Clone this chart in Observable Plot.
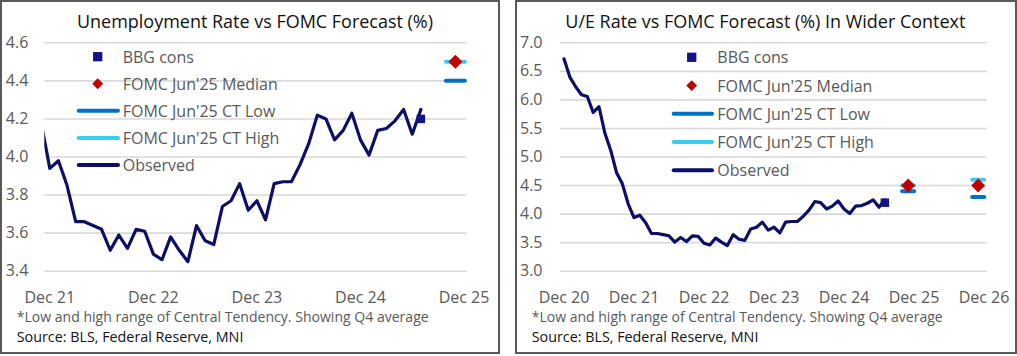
<!DOCTYPE html>
<html><head><meta charset="utf-8">
<script src="https://cdn.jsdelivr.net/npm/d3@7"></script>
<script src="https://cdn.jsdelivr.net/npm/@observablehq/plot@0.6"></script>
<style>
html,body{margin:0;padding:0;background:#fff;}
body{width:1017px;height:356px;position:relative;overflow:hidden;font-family:"Open Sans",sans-serif;}
.panel{position:absolute;top:0;height:354px;box-sizing:border-box;border:2px solid #595959;background:#fff;}
.panel svg{position:absolute;left:0;top:0;}
#overlay{position:absolute;left:0;top:0;pointer-events:none;}
</style></head><body>
<div id="p1" class="panel" style="left:0;width:500px"></div>
<div id="p2" class="panel" style="left:515px;width:502px"></div>
<script>
// ---- data ----
// Observed unemployment rate (%), monthly from Dec 2020 (index 0) to Jul 2025
const obsStartLabel = "Dec 2020";
const observed = [
  6.72,
  6.40, 6.23, 6.09, 6.06, 5.78, 5.88, 5.42, 5.12, 4.73, 4.53, 4.18, 3.94,
  3.98, 3.85, 3.66, 3.66, 3.64, 3.62, 3.51, 3.59, 3.52, 3.62, 3.61, 3.49,
  3.46, 3.58, 3.51, 3.45, 3.64, 3.56, 3.54, 3.74, 3.77, 3.86, 3.72, 3.77,
  3.67, 3.86, 3.87, 3.87, 3.96, 4.07, 4.22, 4.20, 4.09, 4.14, 4.23, 4.09,
  4.01, 4.14, 4.15, 4.19, 4.25, 4.12, 4.25
];
const bbgMonthIndex = [55];      // Jul 2025
const bbgCons = [4.2];
const fcYears = [2025, 2026];    // Q4 average, plotted at mid-quarter (Nov)
const fcMedian = [4.5, 4.5];
const fcCTLow = [4.4, 4.3];
const fcCTHigh = [4.5, 4.6];
const xTickLabels = ["Dec 20","Dec 21","Dec 22","Dec 23","Dec 24","Dec 25","Dec 26"];
const yTicksLeft = [3.4, 3.6, 3.8, 4.0, 4.2, 4.4, 4.6];
const yTicksRight = [3.0, 3.5, 4.0, 4.5, 5.0, 5.5, 6.0, 6.5, 7.0];
const legendLabels = ["BBG cons","FOMC Jun'25 Median","FOMC Jun'25 CT Low","FOMC Jun'25 CT High","Observed"];
const titles = ["Unemployment Rate vs FOMC Forecast (%)", "U/E Rate vs FOMC Forecast (%) In Wider Context"];
const footnote = "*Low and high range of Central Tendency. Showing Q4 average";
const source = "Source: BLS, Federal Reserve, MNI";

// ---- colours ----
const C = {obs:"#0c0f66", bbg:"#111486", med:"#c00000", low:"#0070c0", high:"#38cdef",
           grid:"#d9d9d9", axis:"#595959", dark:"#111"};

const obsData = observed.map((v,i)=>({i, v}));
const bbgData = bbgCons.map((v,k)=>({i:bbgMonthIndex[k], v}));
const fcData = fcYears.map((y,k)=>({i:(y-2020)*12-1, median:fcMedian[k], low:fcCTLow[k], high:fcCTHigh[k], year:y}));

function hbar(h){ return {draw(ctx){ ctx.moveTo(-h,0); ctx.lineTo(h,0); }}; }

function makePlot(cfg){
  return Plot.plot({
    width: cfg.width, height: 350,
    marginLeft: cfg.ml, marginRight: cfg.mr, marginTop: 40.3, marginBottom: 81.3,
    style: {fontFamily:'"Open Sans", sans-serif', fontSize:"16px", color:C.axis, background:"transparent", overflow:"visible"},
    x: {type:"linear", domain: cfg.xDomain, ticks: cfg.xTicks, tickFormat: i => xTickLabels[Math.round(i/12)],
        tickSize: 0, tickPadding: 20, label: null},
    y: {domain: cfg.yDomain, ticks: cfg.yTicks, tickFormat: d => d.toFixed(1), tickSize: 0, tickPadding: cfg.ytp, label: null},
    marks: [
      Plot.ruleY(cfg.yTicks, {stroke: C.grid, strokeWidth: 1.6}),
      Plot.line(obsData.filter(d => d.i >= cfg.obsFrom), {x:"i", y:"v", stroke:C.obs, strokeWidth:3.2, strokeLinejoin:"round", strokeLinecap:"round", clip:true}),
      Plot.dot(bbgData, {x:"i", y:"v", symbol:"square", r:4.8, fill:C.bbg, stroke:"none"}),
      Plot.dot(fcData.filter(cfg.fcFilter), {x:"i", y:"high", symbol:hbar(cfg.barH), r:5, fill:"none", stroke:C.high, strokeWidth:4, strokeLinecap:"round"}),
      Plot.dot(fcData.filter(cfg.fcFilter), {x:"i", y:"low", symbol:hbar(cfg.barH), r:5, fill:"none", stroke:C.low, strokeWidth:4, strokeLinecap:"round"}),
      Plot.dot(fcData.filter(cfg.fcFilter), {x:"i", y:"median", symbol:"diamond2", r:6.3, fill:C.med, stroke:"none"})
    ]
  });
}

document.getElementById("p1").appendChild(makePlot({
  width:496, ml:42.3, mr:31.3, xDomain:[11.42, 60.37], xTicks:[12,24,36,48,60],
  yDomain:[3.4,4.6], yTicks:yTicksLeft, ytp:16.5, obsFrom:11, barH:9.5, fcFilter:d=>d.year===2025
}));
document.getElementById("p2").appendChild(makePlot({
  width:498, ml:43, mr:28.3, xDomain:[-0.6, 72.55], xTicks:[0,12,24,36,48,60,72],
  yDomain:[3.0,7.0], yTicks:yTicksRight, ytp:18, obsFrom:0, barH:6, fcFilter:d=>true
}));

// ---- overlay: titles, legends, notes ----
const svg = d3.select("body").append("svg").attr("id","overlay").attr("width",1017).attr("height",356)
  .style("font-family",'"Open Sans", sans-serif');

function addText(x, y, s, size, fill, anchor, len){
  const t = svg.append("text").attr("x",x).attr("y",y).attr("font-size",size).attr("fill",fill)
    .attr("text-anchor",anchor||"start").text(s);
  if (len) t.attr("textLength",len).attr("lengthAdjust","spacingAndGlyphs");
  return t;
}

function legend(L){
  const types = ["square","diamond","low","high","obs"];
  types.forEach((tp,k)=>{
    const y = L.y0 + k*L.dy;
    if (tp==="square") svg.append("rect").attr("x",L.sx-4.65).attr("y",y-4.65).attr("width",9.3).attr("height",9.3).attr("fill",C.bbg);
    else if (tp==="diamond") svg.append("path").attr("d",`M${L.sx},${y-5.4}L${L.sx+5.4},${y}L${L.sx},${y+5.4}L${L.sx-5.4},${y}Z`).attr("fill",C.med);
    else {
      const col = tp==="low"?C.low:tp==="high"?C.high:C.obs;
      svg.append("line").attr("x1",L.lx1).attr("x2",L.lx2).attr("y1",y).attr("y2",y)
        .attr("stroke",col).attr("stroke-width",4).attr("stroke-linecap","round");
    }
    addText(L.tx, y+6, legendLabels[k], 16, C.axis);
  });
}

legend({sx:97.7, lx1:78.7, lx2:118, tx:122.7, y0:56.7, dy:27.07});
legend({sx:691.7, lx1:673.7, lx2:712, tx:717.3, y0:57.3, dy:28.25});

addText(255, 28.3, titles[0], 18, C.dark, "middle", 356);
addText(765.3, 28.3, titles[1], 18, C.dark, "middle", 400);
addText(16.7, 322.3, footnote, 15, C.axis, "start", 412);
addText(531.7, 322.3, footnote, 15, C.axis, "start", 411);
addText(16.7, 342.3, source, 15, C.dark, "start", 226.7);
addText(531.7, 342.3, source, 15, C.dark, "start", 226.7);
</script></body></html>
